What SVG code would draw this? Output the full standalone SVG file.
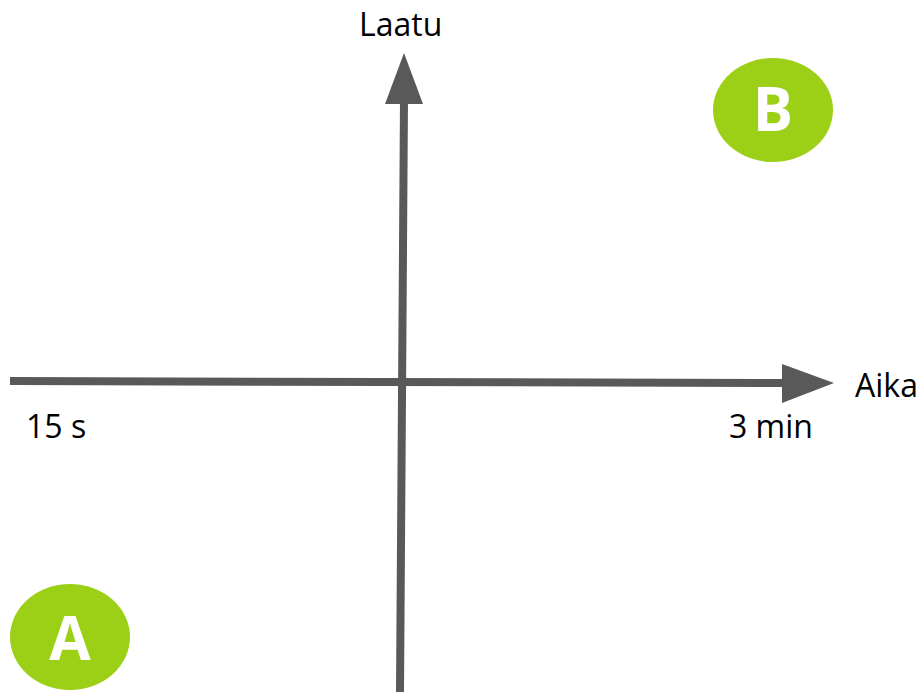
<svg xmlns="http://www.w3.org/2000/svg" width="923" height="692" viewBox="0 0 923 692">
<style>
.ax{stroke:#595959;stroke-width:8;fill:none}
.head{fill:#595959}
.lbl{font-family:"Open Sans","Noto Sans",sans-serif;font-size:32px;fill:#000}
.badge{fill:#9cd016}
.bl{font-family:"Open Sans","Noto Sans",sans-serif;font-size:60px;font-weight:bold;fill:#fff;text-anchor:middle}
</style>
<rect width="923" height="692" fill="#fff"/>
<g id="connectors">
<line class="ax" x1="400" y1="692" x2="404" y2="100"/>
<polygon class="head" points="404,53 385,104 423,104"/>
<line class="ax" x1="10" y1="381" x2="786" y2="383"/>
<polygon class="head" points="834,383 782,364 782,403"/>
</g>
<g id="labels">
<text class="lbl" x="359" y="36">Laatu</text>
<text class="lbl" x="855" y="397">Aika</text>
<text class="lbl" x="729" y="438">3 min</text>
<text class="lbl" x="26" y="438">15 s</text>
</g>
<g id="nodeA">
<ellipse class="badge" cx="70" cy="637" rx="60" ry="53"/>
<text class="bl" x="70" y="660">A</text>
</g>
<g id="nodeB">
<ellipse class="badge" cx="773" cy="110" rx="60" ry="52"/>
<text class="bl" x="773" y="131">B</text>
</g>
</svg>
